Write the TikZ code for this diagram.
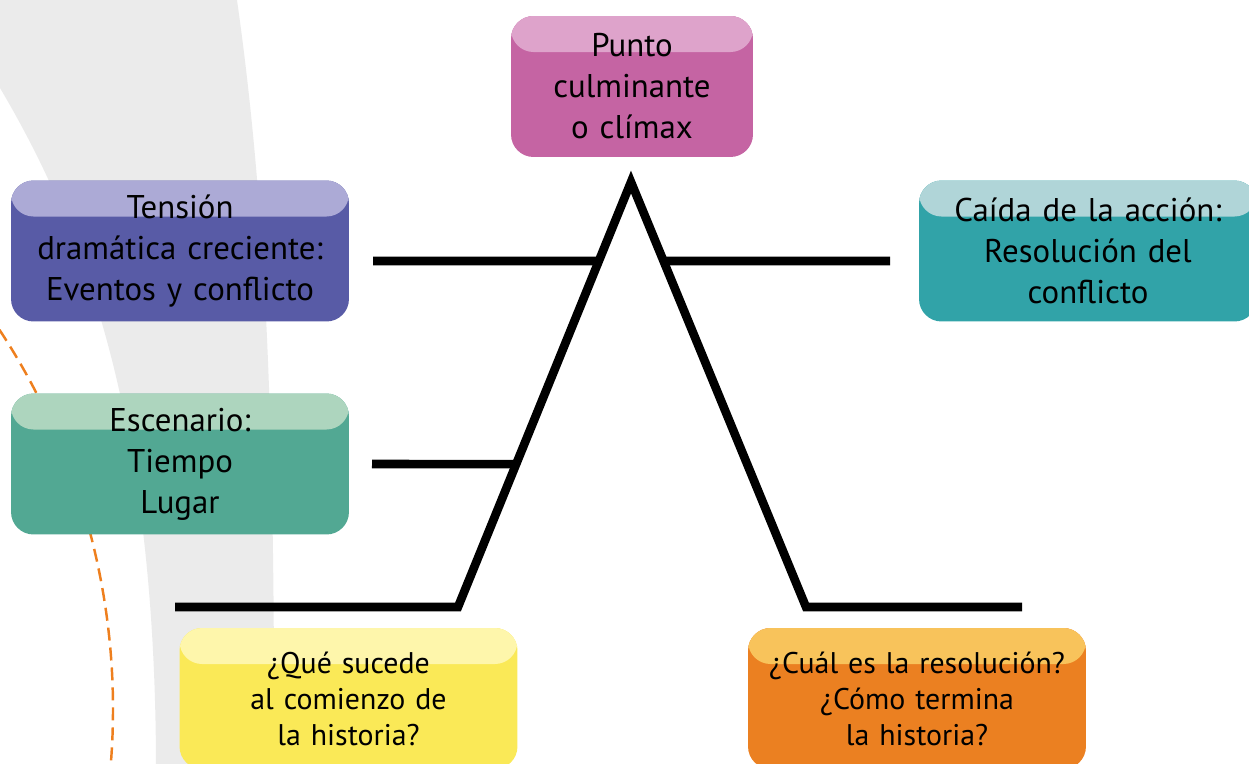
\documentclass[tikz,border=0pt]{standalone}
\usepackage{fontspec}
\setmainfont{PT Sans}
\usetikzlibrary{calc}

\definecolor{fondo}{HTML}{EBEBEB}
\definecolor{naranja}{HTML}{EE7F1E}
\definecolor{climaxclaro}{HTML}{DEA3CB}
\definecolor{climaxoscuro}{HTML}{C564A3}
\definecolor{tensionclaro}{HTML}{ACAAD6}
\definecolor{tensionoscuro}{HTML}{585BA6}
\definecolor{caidaclaro}{HTML}{B0D5D8}
\definecolor{caidaoscuro}{HTML}{31A3A8}
\definecolor{escenarioclaro}{HTML}{ADD5BE}
\definecolor{escenariooscuro}{HTML}{52A893}
\definecolor{inicioclaro}{HTML}{FEF6AB}
\definecolor{iniciooscuro}{HTML}{FAE957}
\definecolor{desenlaceclaro}{HTML}{F8C35B}
\definecolor{desenlaceoscuro}{HTML}{EB8021}

\tikzset{
	etapa/.style 2 args={rounded corners=0.45cm, fill=#2, inner sep=0pt,
		minimum width=6.76cm, minimum height=2.82cm, text width=6.6cm, align=center,
		font=\fontsize{18.7}{23.3}\selectfont,
		path picture={\fill[#1] (path picture bounding box.north west) rectangle ([yshift=-0.72cm]path picture bounding box.north east);}},
	trama/.style={line width=4.9pt, miter limit=10},
}

\begin{document}
\begin{tikzpicture}[x=0.02cm, y=-0.02cm]
				\clip (0,0) rectangle (1249,764);
				\fill[fondo] (0,0) -- (237,0) .. controls (264,190) and (275,400) .. (274,764) -- (156,764) .. controls (155,430) and (90,240) .. (0,88) -- cycle;
				\draw[naranja, line width=1.4pt, dash pattern=on 0.26cm off 0.14cm] (-577,709) ++(-35:690) arc[start angle=-35, end angle=10, radius=690];
				% the plot line
				\coordinate (inicio) at (175,607);
				\coordinate (subida) at (458,607);
				\coordinate (cima) at (631,182);
				\coordinate (bajada) at (806,607);
				\coordinate (fin) at (1022,607);
				\draw[trama] (inicio) -- (subida) -- (cima) -- (bajada) -- (fin);
				\coordinate (tension-pie) at ($(cima)!0.186!(subida)$);
				\coordinate (escenario-pie) at ($(cima)!0.664!(subida)$);
				\coordinate (caida-pie) at ($(cima)!0.186!(bajada)$);
				\coordinate (tension-fin) at (373,261);
				\coordinate (escenario-fin) at (372,464);
				\coordinate (caida-fin) at (890,261);
				\draw[trama] (tension-fin) -- (tension-pie);
				\draw[trama] (escenario-fin) -- (escenario-pie);
				\draw[trama] (caida-pie) -- (caida-fin);
				% the boxes
				\node[etapa={climaxclaro}{climaxoscuro}, minimum width=4.84cm, text width=4.6cm] (climax) at (632,86.5) {Punto\\culminante\\o clímax};
				\node[etapa={tensionclaro}{tensionoscuro}] (tension) at (180,251) {Tensión\\dramática creciente:\\Eventos y conflicto};
				\node[etapa={caidaclaro}{caidaoscuro}] (caida) at (1088,251) {Caída de la acción:\\Resolución del\\conflicto};
				\node[etapa={escenarioclaro}{escenariooscuro}] (escenario) at (180,464) {Escenario:\\Tiempo\\Lugar};
				\node[etapa={inicioclaro}{iniciooscuro}, font=\fontsize{17}{20.5}\selectfont] (inicio-caja) at (348.5,698.5) {¿Qué sucede\\al comienzo de\\la historia?};
				\node[etapa={desenlaceclaro}{desenlaceoscuro}, font=\fontsize{17}{20.5}\selectfont] (desenlace) at (917,698.5) {¿Cuál es la resolución?\\¿Cómo termina\\la historia?};
		    \end{tikzpicture}
\end{document}
